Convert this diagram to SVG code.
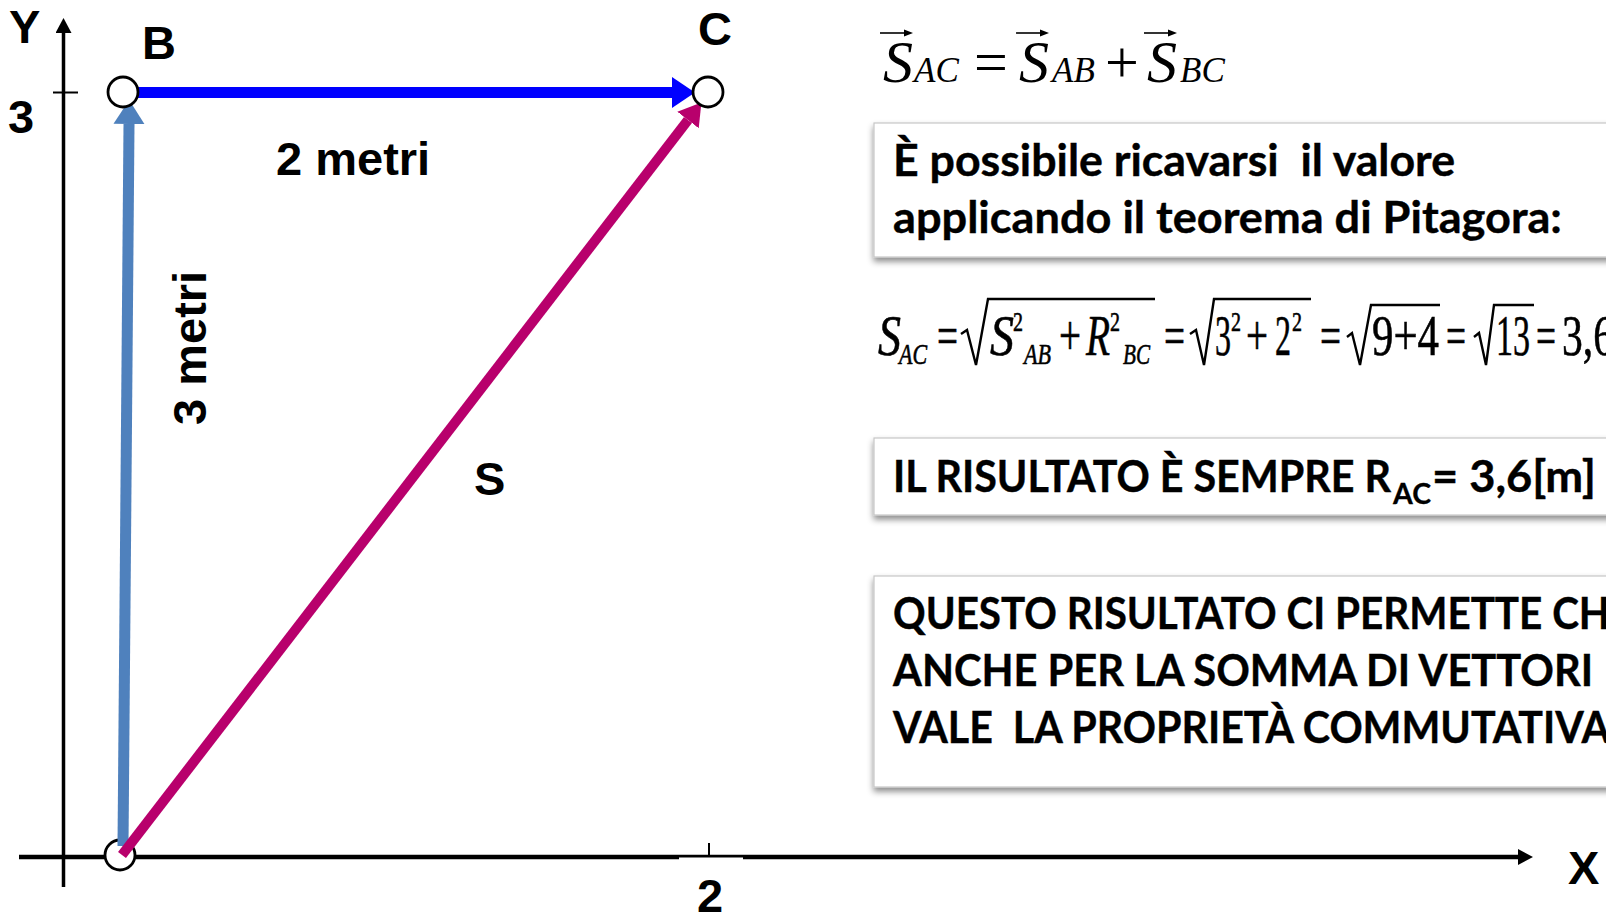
<svg xmlns="http://www.w3.org/2000/svg" width="1606" height="914" viewBox="0 0 1606 914">
<style>
.lbl{font-family:"Liberation Sans",Arial,sans-serif;font-weight:bold;font-size:47px;fill:#000}
.box{fill:#fff;stroke:#c6c6c6;stroke-width:1.2}
.bt{font-family:Lato,"Open Sans",sans-serif;font-weight:bold;font-size:43px;fill:#000;stroke:#000;stroke-width:0.4}
.bs{font-family:Lato,"Open Sans",sans-serif;font-weight:bold;font-size:29px;fill:#000;stroke:#000;stroke-width:0.3}
.m{font-family:"Liberation Serif","Times New Roman",serif;fill:#000}
.mi{font-family:"Liberation Serif","Times New Roman",serif;font-style:italic;fill:#000}
#eq2 text{stroke:#000;stroke-width:0.6}
.rad{fill:none;stroke:#000;stroke-width:2.4;stroke-linejoin:miter}
.pt{fill:#fff;stroke:#000;stroke-width:2.8}
.vec{stroke:#000;stroke-width:1.6}
</style>
<defs>
<filter id="sh" x="-5%" y="-20%" width="110%" height="150%">
<feDropShadow dx="0" dy="4" stdDeviation="3" flood-color="#000" flood-opacity="0.45"/>
</filter>
<marker id="ax" markerUnits="userSpaceOnUse" viewBox="0 -8 15 16" refX="0" refY="0" markerWidth="15" markerHeight="16" orient="auto"><path d="M0,-8 L15,0 L0,8 Z" fill="#000"/></marker>
<marker id="ahBlue" markerUnits="userSpaceOnUse" viewBox="0 -16 24 32" refX="0" refY="0" markerWidth="24" markerHeight="32" orient="auto"><path d="M0,-15.5 L23,0 L0,15.5 Z" fill="#0000FF"/></marker>
<marker id="ahSteel" markerUnits="userSpaceOnUse" viewBox="0 -16 24 32" refX="0" refY="0" markerWidth="24" markerHeight="32" orient="auto"><path d="M0,-15.5 L24,0 L0,15.5 Z" fill="#4F81BD"/></marker>
<marker id="ahMag" markerUnits="userSpaceOnUse" viewBox="0 -14 22 28" refX="0" refY="0" markerWidth="22" markerHeight="28" orient="auto"><path d="M0,-13.5 L22,0 L0,13.5 Z" fill="#B8006C"/></marker>
<marker id="vh" markerUnits="userSpaceOnUse" viewBox="0 -4 9 8" refX="0" refY="0" markerWidth="9" markerHeight="8" orient="auto"><path d="M0,-3.5 L9,0 L0,3.5 Z" fill="#000"/></marker>
</defs>
<rect width="1606" height="914" fill="#fff"/>

<g id="axes">
<line x1="63.5" y1="887" x2="63.5" y2="33" stroke="#000" stroke-width="3.5" marker-end="url(#ax)"/>
<line x1="19" y1="857" x2="1518" y2="857" stroke="#000" stroke-width="4.5" marker-end="url(#ax)"/>
<line x1="53" y1="92.5" x2="78" y2="92.5" stroke="#000" stroke-width="2"/>
<line x1="709" y1="843" x2="709" y2="857" stroke="#000" stroke-width="2"/>
<rect x="679" y="857.5" width="64" height="4" fill="#fff"/>
<text class="lbl" x="9" y="43">Y</text>
<text class="lbl" x="8" y="133">3</text>
<text class="lbl" x="1568" y="884">X</text>
<text class="lbl" x="697" y="912">2</text>
</g>

<g id="node-A"><circle class="pt" cx="120" cy="855" r="15"/></g>

<g id="connectors">
<line x1="123" y1="846" x2="129" y2="124" stroke="#4F81BD" stroke-width="11" marker-end="url(#ahSteel)"/>
<line x1="138" y1="92.5" x2="672" y2="92.5" stroke="#0000FF" stroke-width="11" marker-end="url(#ahBlue)"/>
<line x1="122" y1="855" x2="688" y2="120" stroke="#B8006C" stroke-width="10" marker-end="url(#ahMag)"/>
<text class="lbl" x="276" y="175">2 metri</text>
<text class="lbl" transform="translate(206,425) rotate(-90)" x="0" y="0">3 metri</text>
<text class="lbl" x="474" y="495">S</text>
</g>

<g id="node-B">
<circle class="pt" cx="123" cy="92" r="15"/>
<text class="lbl" x="142" y="59">B</text>
</g>
<g id="node-C">
<circle class="pt" cx="708" cy="92" r="15"/>
<text class="lbl" x="698" y="45">C</text>
</g>

<g id="eq1">
<text class="mi" x="883" y="82" font-size="60">S</text>
<line class="vec" x1="880" y1="33" x2="904" y2="33" marker-end="url(#vh)"/>
<text class="mi" x="914" y="82" font-size="35">AC</text>
<text class="m" x="974" y="82" font-size="60">=</text>
<text class="mi" x="1019" y="82" font-size="60">S</text>
<line class="vec" x1="1016" y1="33" x2="1040" y2="33" marker-end="url(#vh)"/>
<text class="mi" x="1052" y="82" font-size="35">AB</text>
<text class="m" x="1105" y="82" font-size="60">+</text>
<text class="mi" x="1147" y="82" font-size="60">S</text>
<line class="vec" x1="1144" y1="33" x2="1168" y2="33" marker-end="url(#vh)"/>
<text class="mi" x="1180" y="82" font-size="35">BC</text>
</g>

<g id="box1">
<rect class="box" x="874" y="123" width="800" height="134" filter="url(#sh)"/>
<text class="bt" x="893" y="176" textLength="562" lengthAdjust="spacingAndGlyphs" xml:space="preserve">È possibile ricavarsi  il valore</text>
<text class="bt" x="893" y="233" textLength="669" lengthAdjust="spacingAndGlyphs">applicando il teorema di Pitagora:</text>
</g>

<g id="eq2">
<text class="mi" x="878" y="355" font-size="57" textLength="23" lengthAdjust="spacingAndGlyphs">S</text>
<text class="mi" x="899" y="364" font-size="30" textLength="28" lengthAdjust="spacingAndGlyphs">AC</text>
<text class="m" x="937" y="355" font-size="57" textLength="21" lengthAdjust="spacingAndGlyphs">=</text>
<path class="rad" d="M961,334 L967,330 L976,365 L988,299 L1155,299"/>
<text class="mi" x="990" y="355" font-size="57" textLength="24" lengthAdjust="spacingAndGlyphs">S</text>
<text class="m" x="1013" y="331" font-size="28" textLength="10" lengthAdjust="spacingAndGlyphs">2</text>
<text class="mi" x="1024" y="364" font-size="30" textLength="27" lengthAdjust="spacingAndGlyphs">AB</text>
<text class="m" x="1059" y="355" font-size="57" textLength="22" lengthAdjust="spacingAndGlyphs">+</text>
<text class="mi" x="1086" y="355" font-size="57" textLength="24" lengthAdjust="spacingAndGlyphs">R</text>
<text class="m" x="1110" y="331" font-size="28" textLength="10" lengthAdjust="spacingAndGlyphs">2</text>
<text class="mi" x="1123" y="364" font-size="30" textLength="27" lengthAdjust="spacingAndGlyphs">BC</text>
<text class="m" x="1164" y="355" font-size="57" textLength="21" lengthAdjust="spacingAndGlyphs">=</text>
<path class="rad" d="M1190,334 L1196,330 L1204,365 L1214,299 L1311,299"/>
<text class="m" x="1215" y="355" font-size="57" textLength="16" lengthAdjust="spacingAndGlyphs">3</text>
<text class="m" x="1231" y="331" font-size="28" textLength="10" lengthAdjust="spacingAndGlyphs">2</text>
<text class="m" x="1246" y="355" font-size="57" textLength="22" lengthAdjust="spacingAndGlyphs">+</text>
<text class="m" x="1275" y="355" font-size="57" textLength="16" lengthAdjust="spacingAndGlyphs">2</text>
<text class="m" x="1292" y="331" font-size="28" textLength="10" lengthAdjust="spacingAndGlyphs">2</text>
<text class="m" x="1320" y="355" font-size="57" textLength="21" lengthAdjust="spacingAndGlyphs">=</text>
<path class="rad" d="M1347,337 L1352,333 L1360,365 L1371,305 L1440,305"/>
<text class="m" x="1372" y="355" font-size="57" textLength="67" lengthAdjust="spacingAndGlyphs">9+4</text>
<text class="m" x="1446" y="355" font-size="57" textLength="20" lengthAdjust="spacingAndGlyphs">=</text>
<path class="rad" d="M1474,337 L1479,333 L1486,365 L1494,305 L1534,305"/>
<text class="m" x="1496" y="355" font-size="57" textLength="34" lengthAdjust="spacingAndGlyphs">13</text>
<text class="m" x="1536" y="355" font-size="57" textLength="20" lengthAdjust="spacingAndGlyphs">=</text>
<text class="m" x="1562" y="355" font-size="57" textLength="52" lengthAdjust="spacingAndGlyphs">3,6</text>
</g>

<g id="box2">
<rect class="box" x="874" y="438" width="800" height="77" filter="url(#sh)"/>
<text class="bt" x="893" y="492" textLength="498" lengthAdjust="spacingAndGlyphs">IL RISULTATO È SEMPRE R</text>
<text class="bs" x="1393" y="504" textLength="38" lengthAdjust="spacingAndGlyphs">AC</text>
<text class="bt" x="1432" y="492" textLength="164" lengthAdjust="spacingAndGlyphs">= 3,6[m]</text>
</g>

<g id="box3">
<rect class="box" x="874" y="576" width="800" height="211" filter="url(#sh)"/>
<text class="bt" x="893" y="629" textLength="717" lengthAdjust="spacingAndGlyphs">QUESTO RISULTATO CI PERMETTE CH</text>
<text class="bt" x="893" y="686" textLength="700" lengthAdjust="spacingAndGlyphs">ANCHE PER LA SOMMA DI VETTORI</text>
<text class="bt" x="893" y="743" textLength="717" lengthAdjust="spacingAndGlyphs" xml:space="preserve">VALE  LA PROPRIETÀ COMMUTATIVA</text>
</g>
</svg>
